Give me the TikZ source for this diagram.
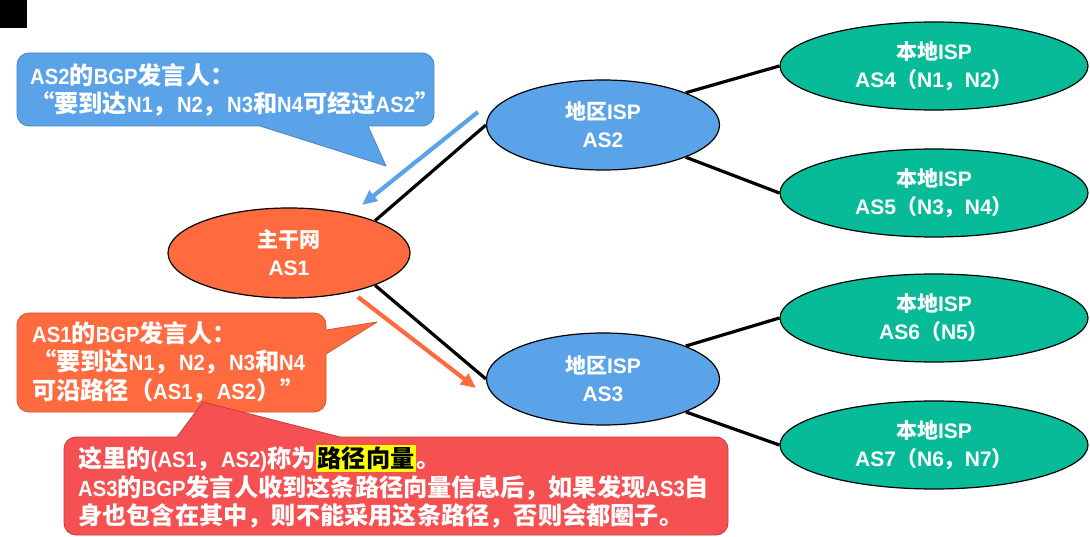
\documentclass[tikz,border=0pt]{standalone}
\usepackage{fontspec}
\usetikzlibrary{shapes.geometric,arrows.meta}
\setmainfont{Liberation Sans}
\newfontfamily\cjkfont{Noto Sans CJK SC}
\newfontfamily\latfont{Liberation Sans}
\newfontfamily\latnarrow{Liberation Sans Bold}[FakeStretch=0.92, BoldFont={Liberation Sans Bold}]
\def\cjkswitch{\cjkfont}
\def\latswitch{\latfont}
\newcount\cjkc
\newXeTeXintercharclass\CJKcls
\def\setcjkrange#1#2{\cjkc=#1\relax\loop\XeTeXcharclass\cjkc=\CJKcls\relax\ifnum\cjkc<#2\relax\advance\cjkc by 1\relax\repeat}
\setcjkrange{"4E00}{"9FFF}
\setcjkrange{"3000}{"303F}
\setcjkrange{"FF00}{"FFEF}
\XeTeXcharclass"201C=\CJKcls
\XeTeXcharclass"201D=\CJKcls
\XeTeXinterchartoks 0 \CJKcls={\cjkswitch}
\XeTeXinterchartoks 4095 \CJKcls={\cjkswitch}
\XeTeXinterchartoks \CJKcls 0={\latswitch}
\XeTeXinterchartoks \CJKcls 4095={\latswitch}
\XeTeXinterchartokenstate=1
\definecolor{bluef}{RGB}{91,163,232}
\definecolor{blued}{RGB}{70,130,195}
\definecolor{orangef}{RGB}{255,107,62}
\definecolor{oranged}{RGB}{205,85,50}
\definecolor{greenf}{RGB}{8,187,152}
\definecolor{redf}{RGB}{245,80,82}
\definecolor{redd}{RGB}{195,60,60}
\definecolor{hl}{RGB}{255,255,0}
\begin{document}
\begin{tikzpicture}[x=1pt,y=-1pt,
  txt/.style={font=\bfseries\fontsize{21}{28}\selectfont},
  calltxt/.style={font={\latnarrow\bfseries\fontsize{22}{28.5}\selectfont
      \def\cjkswitch{\cjkfont\bfseries\fontsize{24.2}{28.5}\selectfont}%
      \def\latswitch{\latnarrow\bfseries\fontsize{22}{28.5}\selectfont}}},
  ell/.style={ellipse, draw=black, line width=1.2pt, inner sep=0pt, text=white, align=center, txt},
  link/.style={line width=3.2pt, black},
  ctext/.style={inner sep=0pt, text=white, align=left, anchor=west, calltxt},
  barrow/.style={line width=4.2pt, -{Triangle[length=15pt,width=13pt]}},
]
\useasboundingbox (0,0) rectangle (1090,537);
\fill[black] (0,0) rectangle (27,28);

% ellipses
\node[ell, fill=orangef, minimum width=242pt, minimum height=90pt] (as1) at (289,253) {主干网\\AS1};
\node[ell, fill=bluef, minimum width=233pt, minimum height=90pt] (as2) at (603,125) {地区ISP\\AS2};
\node[ell, fill=bluef, minimum width=233pt, minimum height=92pt] (as3) at (603,379) {地区ISP\\AS3};
\node[ell, fill=greenf, minimum width=308pt, minimum height=88pt] (as4) at (934,66) {本地ISP\\AS4（N1，N2）};
\node[ell, fill=greenf, minimum width=308pt, minimum height=88pt] (as5) at (934,193) {本地ISP\\AS5（N3，N4）};
\node[ell, fill=greenf, minimum width=308pt, minimum height=88pt] (as6) at (934,318) {本地ISP\\AS6（N5）};
\node[ell, fill=greenf, minimum width=308pt, minimum height=88pt] (as7) at (934,445) {本地ISP\\AS7（N6，N7）};

% links
\draw[link] (as1.north east) -- (as2.west);
\draw[link] (as1.south east) -- (as3.west);
\draw[link] (as2.north east) -- (as4.west);
\draw[link] (as2.south east) -- (as5.west);
\draw[link] (as3.north east) -- (as6.west);
\draw[link] (as3.south east) -- (as7.west);

% arrows
\coordinate (ba1) at (478,112);
\coordinate (ba2) at (362,205);
\coordinate (oa1) at (358,297);
\coordinate (oa2) at (476,388);
\draw[barrow, bluef] (ba1) -- (ba2);
\draw[barrow, orangef] (oa1) -- (oa2);

% blue callout
\filldraw[fill=bluef, draw=blued, line width=0.8pt, rounded corners=12pt] (17,53) rectangle (434,126);
\fill[bluef] (235,118) -- (386,166) -- (364,118) -- cycle;
\draw[blued, line width=0.8pt, line join=round] (260,126) -- (386,166) -- (368,126);
\node[ctext] (bt) at (30,90) {AS2的BGP发言人：\\“要到达N1，N2，N3和N4可经过AS2”};

% orange callout
\filldraw[fill=orangef, draw=oranged, line width=0.8pt, rounded corners=12pt] (17,313) rectangle (326,412);
\fill[orangef] (318,331.3) -- (377,322) -- (318,359) -- cycle;
\draw[oranged, line width=0.8pt, line join=round] (326,330) -- (377,322) -- (326,354);
\node[ctext] (ot) at (32,362) {AS1的BGP发言人：\\“要到达N1，N2，N3和N4\\可沿路径（AS1，AS2）”};

% red callout
\filldraw[fill=redf, draw=redd, line width=0.8pt, rounded corners=12pt] (64,437) rectangle (728,535);
\fill[redf] (171,445) -- (203,402) -- (371,445) -- cycle;
\draw[redd, line width=0.8pt, line join=round] (177,437) -- (203,402) -- (340,437);
\node[ctext] (rt) at (78,487) {这里的(AS1，AS2)称为{\setlength\fboxsep{2pt}\colorbox{hl}{\color{black}路径向量}}。\\AS3的BGP发言人收到这条路径向量信息后，如果发现AS3自\\身也包含在其中，则不能采用这条路径，否则会都圈子。};
\end{tikzpicture}
\end{document}
